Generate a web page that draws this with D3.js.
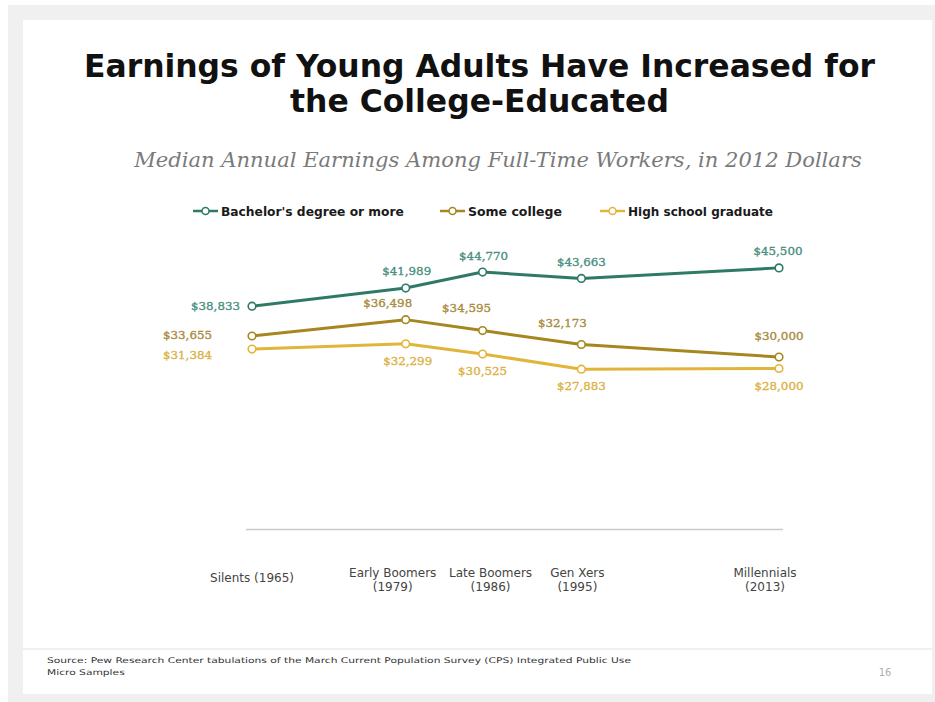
<!DOCTYPE html>
<html>
<head>
<meta charset="utf-8">
<script src="https://cdn.jsdelivr.net/npm/d3@7/dist/d3.min.js"></script>
<style>
  html, body { margin: 0; padding: 0; background: #ffffff; }
  svg { display: block; }
</style>
</head>
<body>
<svg id="chart" width="935" height="702"></svg>
<script>
// Generations and the year each cohort was observed
const years = [1965, 1979, 1986, 1995, 2013];
const generationLabels = [
  ["Silents (1965)"],
  ["Early Boomers", "(1979)"],
  ["Late Boomers", "(1986)"],
  ["Gen Xers", "(1995)"],
  ["Millennials", "(2013)"]
];

// Median annual earnings, 2012 dollars
const bachelor = [38833, 41989, 44770, 43663, 45500];
const someCollege = [33655, 36498, 34595, 32173, 30000];
const highSchool = [31384, 32299, 30525, 27883, 28000];

const seriesNames = ["Bachelor's degree or more", "Some college", "High school graduate"];

// Styling and label placement (kept apart from the values)
const lineColors = ["#2f7a66", "#a6861f", "#e1b53a"];
const labelColors = ["#4b8f7f", "#a88c3e", "#dcb245"];
const labelPlacement = [
  [[-12, 0, "end"], [1, -17, "middle"], [1, -16, "middle"], [0, -16, "middle"], [-1, -17, "middle"]],
  [[-40, -1, "end"], [-18, -17, "middle"], [-16, -23, "middle"], [-19, -22, "middle"], [0, -21, "middle"]],
  [[-40, 6, "end"], [2, 17, "middle"], [0, 17, "middle"], [0, 17, "middle"], [0, 17, "middle"]]
];
const categoryNudge = [0, -13, 8, -4, -14];

const svg = d3.select("#chart");

// Fit a text element's font size so it spans the given width
function fitWidth(sel, width) {
  const w = sel.node().getComputedTextLength();
  const fs = parseFloat(sel.attr("font-size"));
  sel.attr("font-size", (fs * width / w).toFixed(2));
  return sel;
}

// Slide frame
svg.append("rect").attr("x", 8).attr("y", 5).attr("width", 927).attr("height", 697).attr("fill", "#f0f0f0");
svg.append("rect").attr("x", 23).attr("y", 20).attr("width", 909).attr("height", 674).attr("fill", "#ffffff");
svg.append("line").attr("x1", 23).attr("x2", 932).attr("y1", 649).attr("y2", 649)
  .attr("stroke", "#ebebeb").attr("stroke-width", 1.5);

// Title
const titleLines = ["Earnings of Young Adults Have Increased for", "the College-Educated"];
const t1 = svg.append("text").attr("x", 479.5).attr("y", 77).attr("text-anchor", "middle")
  .attr("font-family", "DejaVu Sans").attr("font-weight", "bold").attr("font-size", 28)
  .attr("fill", "#111").text(titleLines[0]);
fitWidth(t1, 791);
svg.append("text").attr("x", 479.5).attr("y", 112).attr("text-anchor", "middle")
  .attr("font-family", "DejaVu Sans").attr("font-weight", "bold").attr("font-size", t1.attr("font-size"))
  .attr("fill", "#111").text(titleLines[1]);

// Subtitle
const sub = svg.append("text").attr("x", 498).attr("y", 167).attr("text-anchor", "middle")
  .attr("font-family", "DejaVu Serif").attr("font-style", "italic").attr("font-size", 20)
  .attr("fill", "#7a7a7a").text("Median Annual Earnings Among Full-Time Workers, in 2012 Dollars");
fitWidth(sub, 728);

// Scales
const x = d3.scaleLinear().domain([1965, 2013]).range([252, 779]);
const y = d3.scaleLinear().domain([0, 50000]).range([529.5, 242]);

// Baseline axis with category labels below
const axisG = svg.append("g").attr("transform", `translate(0,${y(0)})`);
axisG.call(d3.axisBottom(x).tickValues([]).tickSize(0).tickSizeOuter(0));
axisG.select(".domain")
  .attr("d", `M${x(1965) - 6},0H${x(2013) + 4}`)
  .attr("stroke", "#c9c9c9").attr("stroke-width", 1.5);

const catG = svg.append("g");
let catSize = null;
generationLabels.forEach((lines, i) => {
  const cx = x(years[i]) + categoryNudge[i];
  const startY = lines.length === 1 ? 582 : 577;
  const txt = catG.append("text").attr("text-anchor", "middle")
    .attr("font-family", "DejaVu Sans").attr("font-size", catSize || 11).attr("fill", "#444");
  lines.forEach((ln, j) => {
    txt.append("tspan").attr("x", cx).attr("y", startY + j * 14).text(ln);
  });
  if (i === 0) { fitWidth(txt, 84); catSize = txt.attr("font-size"); }
});

// Lines, markers and value labels
const allSeries = [bachelor, someCollege, highSchool];
const line = d3.line().x((d, i) => x(years[i])).y(d => y(d));

allSeries.forEach((vals, s) => {
  svg.append("path").datum(vals).attr("d", line)
    .attr("fill", "none").attr("stroke", lineColors[s]).attr("stroke-width", 3)
    .attr("stroke-linejoin", "round");
});

allSeries.forEach((vals, s) => {
  svg.selectAll(null).data(vals).enter().append("circle")
    .attr("cx", (d, i) => x(years[i])).attr("cy", d => y(d)).attr("r", 3.8)
    .attr("fill", "#fff").attr("stroke", lineColors[s]).attr("stroke-width", 1.6);
});

const fmt = d3.format("$,");
allSeries.forEach((vals, s) => {
  vals.forEach((v, i) => {
    const [dx, dy, anchor] = labelPlacement[s][i];
    const lbl = svg.append("text")
      .attr("x", x(years[i]) + dx).attr("y", y(v) + dy + 4)
      .attr("text-anchor", anchor)
      .attr("font-family", "DejaVu Serif").attr("font-size", 11)
      .attr("fill", labelColors[s]).attr("stroke", labelColors[s]).attr("stroke-width", 0.35)
      .text(fmt(v));
    fitWidth(lbl, 49);
  });
});

// Legend
const legendPos = [193, 440, 600];
const legendWidths = [183, 94, 145];
seriesNames.forEach((name, s) => {
  const g = svg.append("g").attr("transform", `translate(${legendPos[s]},211)`);
  g.append("line").attr("x1", 0).attr("x2", 25).attr("y1", 0).attr("y2", 0)
    .attr("stroke", lineColors[s]).attr("stroke-width", 2.5);
  g.append("circle").attr("cx", 12.5).attr("cy", 0).attr("r", 3.5)
    .attr("fill", "#fff").attr("stroke", lineColors[s]).attr("stroke-width", 1.5);
  const lt = g.append("text").attr("x", 28).attr("y", 4.5)
    .attr("font-family", "DejaVu Sans").attr("font-weight", "bold").attr("font-size", 12)
    .attr("fill", "#1a1a1a").text(name);
  fitWidth(lt, legendWidths[s]);
});

// Footer: source note, condensed to the same ratio on both lines
const sourceLines = [
  "Source: Pew Research Center tabulations of the March Current Population Survey (CPS) Integrated Public Use",
  "Micro Samples"
];
const srcTexts = sourceLines.map((s, j) => svg.append("text")
  .attr("x", 47).attr("y", 663 + j * 12)
  .attr("font-family", "DejaVu Sans").attr("font-size", 7.8).attr("fill", "#333")
  .text(s));
const squeeze = 584 / srcTexts[0].node().getComputedTextLength();
srcTexts.forEach(t => {
  t.attr("textLength", (t.node().getComputedTextLength() * squeeze).toFixed(1))
   .attr("lengthAdjust", "spacingAndGlyphs");
});
svg.append("text").attr("x", 885).attr("y", 676).attr("text-anchor", "middle")
  .attr("font-family", "DejaVu Sans").attr("font-size", 10).attr("fill", "#b0b0b0")
  .text("16");
</script>
</body>
</html>
